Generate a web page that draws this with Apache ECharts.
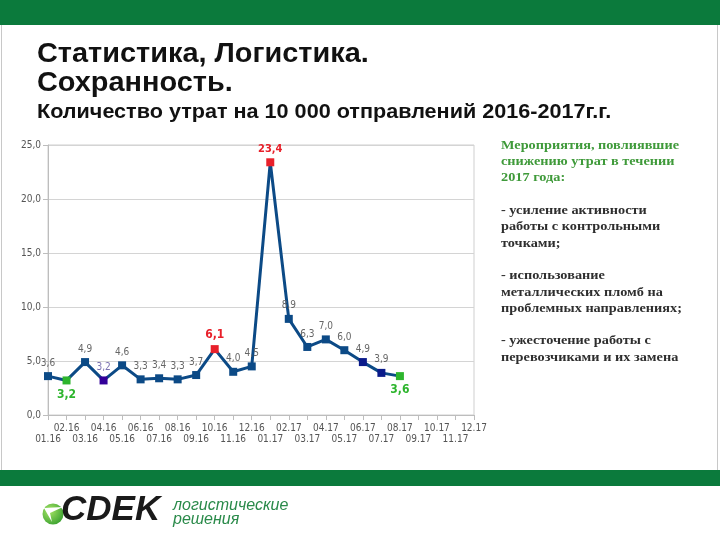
<!DOCTYPE html>
<html><head><meta charset="utf-8">
<script src="https://cdn.jsdelivr.net/npm/echarts@6/dist/echarts.min.js"></script>
<style>html,body{margin:0;padding:0;background:#fff}#c{width:720px;height:540px}</style>
</head><body><div id="c"></div>
<script>
var months = ['01.16','02.16','03.16','04.16','05.16','06.16','07.16','08.16','09.16','10.16','11.16','12.16',
              '01.17','02.17','03.17','04.17','05.17','06.17','07.17','08.17','09.17','10.17','11.17','12.17'];
var losses = [3.6,3.2,4.9,3.2,4.6,3.3,3.4,3.3,3.7,6.1,4.0,4.5,23.4,8.9,6.3,7.0,6.0,4.9,3.9,3.6,null,null,null,null];
var yTicks = [0,5,10,15,20,25];
var titleLines = ['Статистика, Логистика.','Сохранность.'];
var subtitle = 'Количество утрат на 10 000 отправлений 2016-2017г.г.';
var noteHead = ['Мероприятия, повлиявшие','снижению утрат в течении','2017 года:'];
var noteBody = ['','- усиление активности','работы с контрольными','точками;','','- использование','металлических пломб на','проблемных направлениях;','','- ужесточение работы с','перевозчиками и их замена'];

var fmt = function(v){ return v.toFixed(1).replace('.', ','); };
var special = {
  1:  {m:'#2db52d', l:{color:'#2db52d', fontWeight:'bold', fontSize:12, position:'bottom'}},
  3:  {m:'#330099', l:{color:'#7a70b0'}},
  9:  {m:'#e8202a', l:{color:'#e8202a', fontWeight:'bold', fontSize:12}},
  12: {m:'#e8202a', l:{color:'#e8202a', fontWeight:'bold', fontSize:11}},
  17: {m:'#0a1a8a'},
  18: {m:'#0a1a8a'},
  19: {m:'#2db52d', l:{color:'#2db52d', fontWeight:'bold', fontSize:12, position:'bottom'}}
};
var seriesData = losses.map(function(v,i){
  var d = {value:v};
  var s = special[i];
  if (s) {
    d.itemStyle = {color:s.m};
    if (s.l) d.label = s.l;
  }
  return d;
});

var titleFont = "'Liberation Sans Narrow','Arial Narrow','Liberation Sans',Arial";
var graphics = [
  {type:'rect', shape:{x:0,y:0,width:720,height:25}, style:{fill:'#0b7a3c'}},
  {type:'rect', shape:{x:0,y:470,width:720,height:16}, style:{fill:'#0b7a3c'}},
  {type:'line', shape:{x1:1.5,y1:25,x2:1.5,y2:470}, style:{stroke:'#c8c8c8',lineWidth:1}},
  {type:'line', shape:{x1:717.5,y1:25,x2:717.5,y2:470}, style:{stroke:'#c8c8c8',lineWidth:1}}
];
titleLines.forEach(function(t,i){
  graphics.push({type:'text', x:37, y:41+i*29, scaleX:1.07, style:{text:t, font:"bold 27px "+titleFont, fill:'#111'}});
});
graphics.push({type:'text', x:37, y:102, scaleX:1.08, style:{text:subtitle, font:"bold 20px "+titleFont, fill:'#111'}});
var noteFont = "bold 13px 'Liberation Serif','DejaVu Serif',serif";
noteHead.forEach(function(t,i){
  graphics.push({type:'text', x:501, y:139+i*16.3, scaleX:1.1, style:{text:t, font:noteFont, fill:'#3f9a3a'}});
});
noteBody.forEach(function(t,i){
  if(!t) return;
  graphics.push({type:'text', x:501, y:139+(i+3)*16.3, scaleX:1.1, style:{text:t, font:noteFont, fill:'#2e2e2e'}});
});
// logo
graphics.push({type:'circle', shape:{cx:53,cy:514,r:10.5}, style:{fill:{type:'radial',x:0.35,y:0.35,r:0.8,colorStops:[{offset:0,color:'#a6e466'},{offset:1,color:'#2f9a2a'}]}}});
graphics.push({type:'polygon', shape:{points:[[44,508],[63,507],[50,513],[52,522]]}, style:{fill:'#ffffff'}});
graphics.push({type:'text', x:61, y:493, style:{text:'CDEK', font:"italic 900 35px 'Liberation Sans','DejaVu Sans',Arial", fill:'#1a1a1a'}});
graphics.push({type:'text', x:173, y:498, style:{text:'логистические', font:"italic 16px 'Liberation Sans',Arial", fill:'#2a8a4a'}});
graphics.push({type:'text', x:173, y:512, style:{text:'решения', font:"italic 16px 'Liberation Sans',Arial", fill:'#2a8a4a'}});

var chart = echarts.init(document.getElementById('c'));
chart.setOption({
  animation:false,
  backgroundColor:'#fff',
  grid:{left:48, right:246, top:145, bottom:125, show:true, borderColor:'#cfcfcf', borderWidth:1},
  xAxis:{type:'category', data:months, boundaryGap:false,
    axisLine:{lineStyle:{color:'#bdbdbd'}},
    axisTick:{show:true, length:5, lineStyle:{color:'#bdbdbd'}},
    axisLabel:{interval:0, color:'#555', fontSize:10, margin:8, lineHeight:11,
      fontFamily:"'DejaVu Sans Condensed','Liberation Sans',sans-serif",
      formatter:function(v,i){ return i%2===0 ? '\n'+v : v; }}},
  yAxis:{type:'value', min:yTicks[0], max:yTicks[yTicks.length-1], interval:yTicks[1]-yTicks[0],
    axisLine:{show:true, lineStyle:{color:'#bdbdbd'}},
    axisTick:{show:true, length:5, lineStyle:{color:'#bdbdbd'}},
    splitLine:{lineStyle:{color:'#d4d4d4'}},
    axisLabel:{color:'#555', fontSize:10, margin:7, fontFamily:"'DejaVu Sans Condensed','Liberation Sans',sans-serif", formatter:fmt}},
  series:[{type:'line', data:seriesData, connectNulls:false,
    symbol:'rect', symbolSize:8,
    lineStyle:{color:'#0c4a86', width:3},
    itemStyle:{color:'#0c4a86'},
    label:{show:true, position:'top', distance:4, color:'#666', fontSize:10,
      fontFamily:"'DejaVu Sans Condensed','Liberation Sans',sans-serif",
      formatter:function(p){ return fmt(p.value); }}
  }],
  graphic:graphics
});
</script></body></html>
